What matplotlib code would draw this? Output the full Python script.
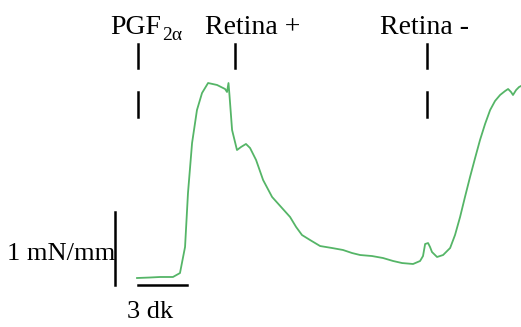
import matplotlib
matplotlib.use("Agg")
from matplotlib import pyplot as plt

plt.rcParams['font.family'] = ['Liberation Serif', 'DejaVu Serif']

# isometric tension recording, time in minutes, tension in mN/mm
time_min = [0.00, 0.80, 1.41, 2.20, 2.63, 2.94, 3.12, 3.37, 3.67, 3.98,
            4.35, 4.90, 5.39, 5.51, 5.60, 5.66, 5.82, 6.12, 6.37, 6.67,
            6.92, 7.29, 7.72, 8.27, 8.82, 9.37, 9.74, 10.10, 10.59, 11.21,
            11.94, 12.61, 13.17, 13.66, 14.39, 15.06, 15.68, 16.23, 16.90, 17.33,
            17.51, 17.64, 17.82, 17.94, 18.06, 18.37, 18.74, 19.17, 19.47, 19.78,
            20.08, 20.39, 20.70, 21.00, 21.31, 21.62, 21.92, 22.23, 22.54, 22.72,
            22.90, 23.02, 23.21, 23.39, 23.51]
tension = [0.000, 0.007, 0.014, 0.014, 0.068, 0.425, 1.164, 1.849, 2.301, 2.534,
           2.671, 2.644, 2.589, 2.548, 2.671, 2.507, 2.027, 1.753, 1.795, 1.836,
           1.781, 1.616, 1.342, 1.110, 0.973, 0.836, 0.699, 0.589, 0.521, 0.438,
           0.411, 0.384, 0.342, 0.315, 0.301, 0.274, 0.233, 0.205, 0.192, 0.233,
           0.301, 0.466, 0.479, 0.425, 0.356, 0.288, 0.315, 0.411, 0.589, 0.836,
           1.110, 1.384, 1.644, 1.890, 2.110, 2.301, 2.425, 2.507, 2.562, 2.589,
           2.548, 2.507, 2.575, 2.616, 2.630]

# drug additions
event_labels = ['PGF', 'Retina +', 'Retina -']
event_times = [0.06, 6.0, 17.76]
event_label_x = [-1.65, 4.16, 14.88]
event_second_tick = [True, False, True]

bar_time = 3.0      # min
bar_tension = 1.0   # mN/mm

fig = plt.figure(figsize=(5.21, 3.27), dpi=100)
ax = fig.add_axes([0, 0, 1, 1])
ax.set_xlim(-8.39, 23.51)
ax.set_ylim(-0.671, 3.808)
ax.axis('off')

ax.plot(time_min, tension, color='#55b567', lw=1.3, solid_joinstyle='round')

for lab, t, lx, second in zip(event_labels, event_times, event_label_x, event_second_tick):
    ax.plot([t, t], [2.877, 3.205], color='black', lw=1.8)
    if second:
        ax.plot([t, t], [2.205, 2.548], color='black', lw=1.8)
    txt = ax.text(lx, 3.349, lab, fontsize=20, va='baseline', ha='left')
    if lab == 'PGF':
        ax.annotate('2α', xy=(1, 0), xycoords=txt, xytext=(0.5, -3),
                    textcoords='offset points', fontsize=14,
                    va='bottom', ha='left')

# scale bars
x0, y0 = 0.06, -0.096
ax.plot([-1.35, -1.35], [y0, y0 + bar_tension], color='black', lw=1.8)
ax.plot([x0, x0 + bar_time], [y0, y0], color='black', lw=1.8)
ax.text(-1.35, 0.33, '%g mN/mm' % bar_tension, fontsize=19, ha='right', va='center')
ax.text(-0.61, -0.548, '%g dk' % bar_time, fontsize=19, ha='left', va='baseline')

fig.savefig('out.png', dpi=100)
